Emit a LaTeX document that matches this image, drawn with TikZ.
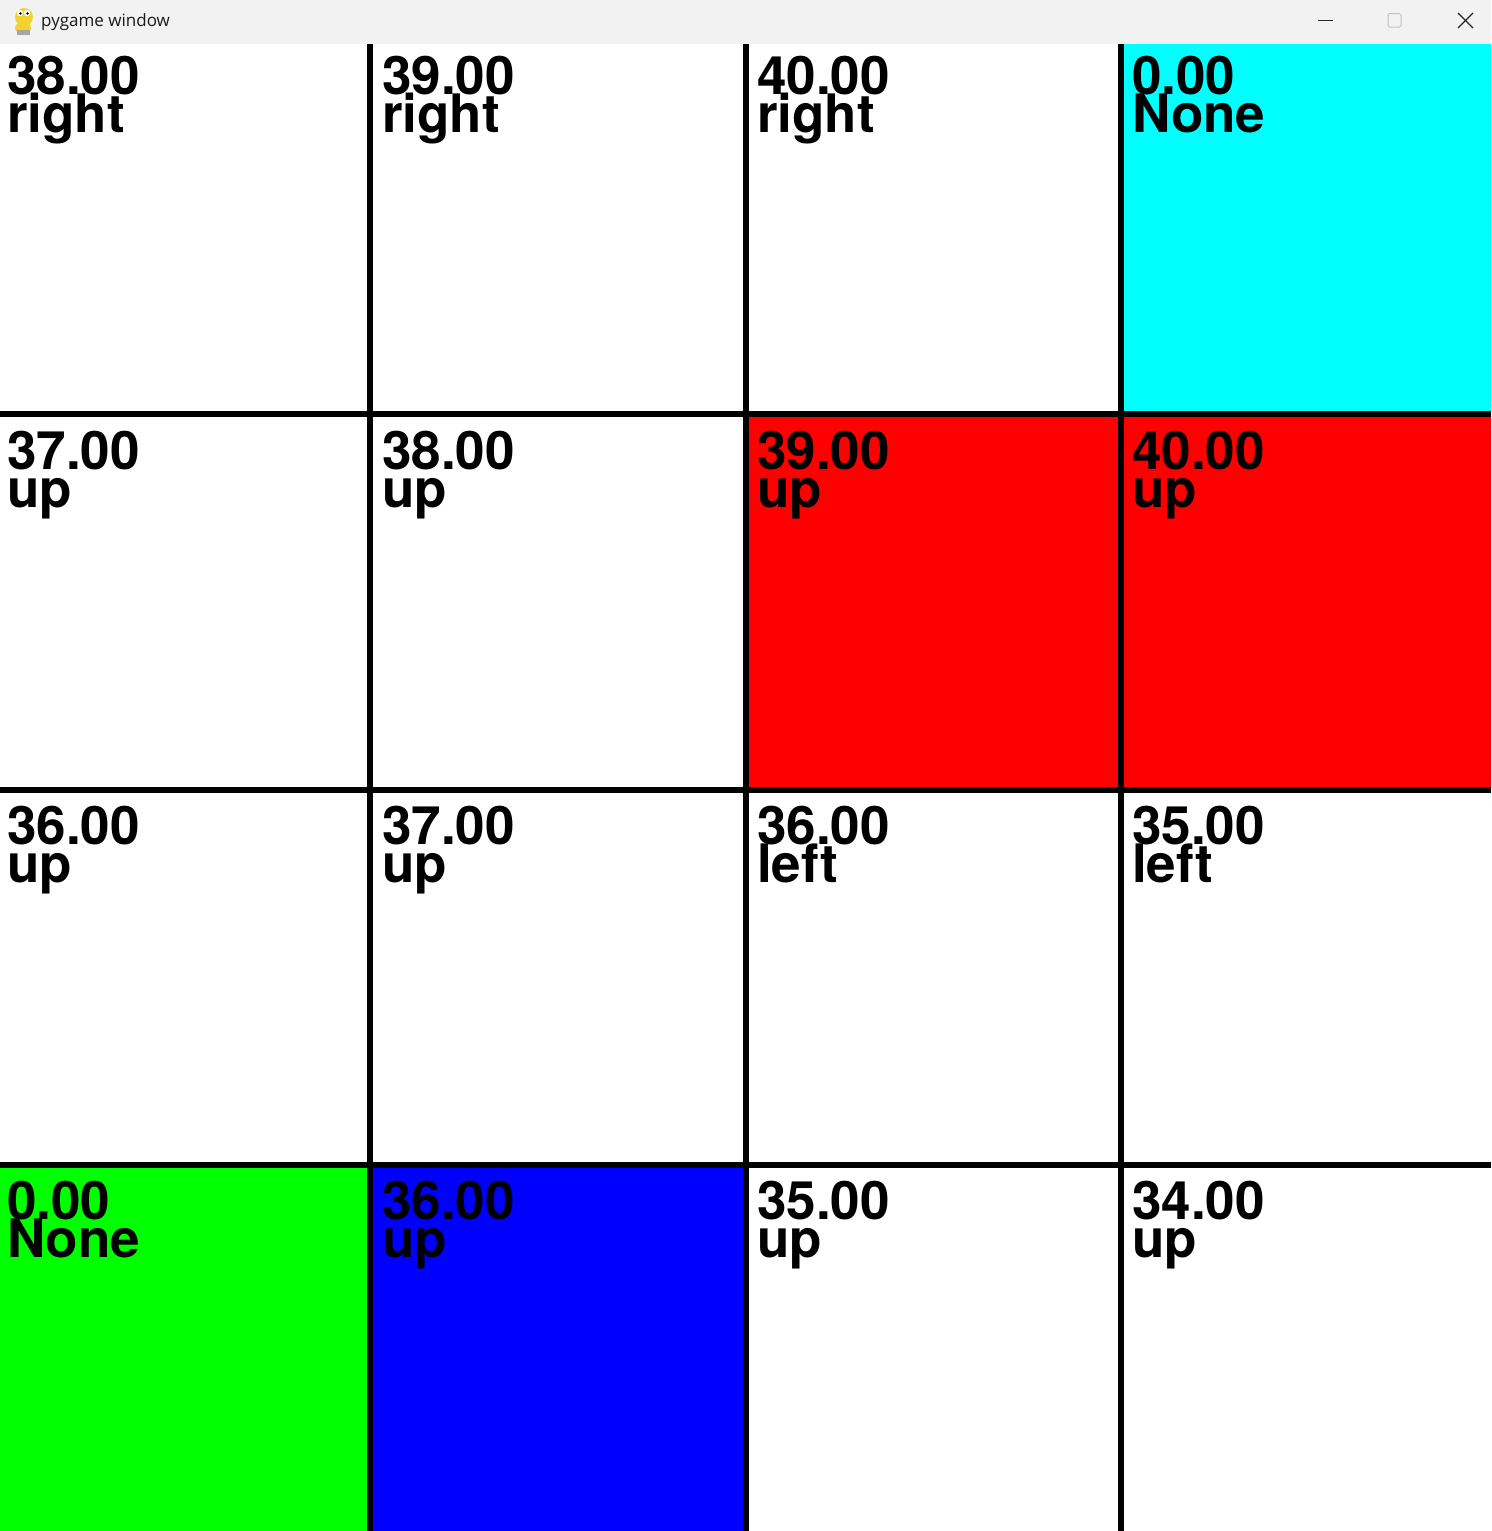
\documentclass[tikz,border=0pt]{standalone}
\usepackage{fontspec}
\setmainfont{TeX Gyre Heros}
\newfontfamily\titlefont{Open Sans}
\definecolor{barbg}{HTML}{F2F2F2}
\definecolor{cellcyan}{HTML}{00FFFF}
\definecolor{cellred}{HTML}{FF0000}
\definecolor{cellgreen}{HTML}{00FF00}
\definecolor{cellblue}{HTML}{0000FF}
\definecolor{iconyellow}{HTML}{F2D22E}
\tikzset{
  gridline/.style={line width=6pt, black},
  celltext/.style={anchor=base west, inner sep=0pt, font=\bfseries\fontsize{53}{53}\selectfont},
  titletext/.style={anchor=base west, inner sep=0pt, font=\titlefont\fontsize{17}{17}\selectfont, text=black!90},
  ctrl/.style={line width=1.2pt, black!85},
}
\begin{document}
\begin{tikzpicture}[x=1pt,y=-1pt]
\useasboundingbox (0,0) rectangle (1491,1531);
% window background
\fill[white] (0,0) rectangle (1491,1531);
% title bar
\fill[barbg] (0,0) rectangle (1491,44);
% icon
\fill[iconyellow] (24,17) ellipse (9 and 9);
\fill[iconyellow] (23,28) ellipse (8 and 6);
\fill[gray!70] (17,30) rectangle (30,35);
\fill[white] (20,13) circle (3.2);
\fill[white] (27,13) circle (3.2);
\fill[black] (20.5,13.5) circle (1.4);
\fill[black] (27.5,13.5) circle (1.4);
\node[titletext] (title) at (41,27) {pygame window};
% window controls
\draw[ctrl] (1318,20.5) -- (1333,20.5);
\draw[line width=1pt, black!25, rounded corners=1.5pt] (1388,13.5) rectangle (1401,27);
\draw[ctrl] (1458,13) -- (1473,28);
\draw[ctrl] (1458,28) -- (1473,13);
% coloured cells
\fill[cellcyan]  (1121,44) rectangle (1491,414);
\fill[cellred]   (745.5,414) rectangle (1121,789.5);
\fill[cellred]   (1121,414) rectangle (1491,789.5);
\fill[cellgreen] (0,1165) rectangle (370,1531);
\fill[cellblue]  (370,1165) rectangle (745.5,1531);
% grid lines
\coordinate (v1t) at (370,44);   \coordinate (v1b) at (370,1531);
\coordinate (v2t) at (745.5,44); \coordinate (v2b) at (745.5,1531);
\coordinate (v3t) at (1121,44);  \coordinate (v3b) at (1121,1531);
\coordinate (h1l) at (0,414);    \coordinate (h1r) at (1491,414);
\coordinate (h2l) at (0,789.5);  \coordinate (h2r) at (1491,789.5);
\coordinate (h3l) at (0,1165);   \coordinate (h3r) at (1491,1165);
\draw[gridline] (v1t) -- (v1b);
\draw[gridline] (v2t) -- (v2b);
\draw[gridline] (v3t) -- (v3b);
\draw[gridline] (h1l) -- (h1r);
\draw[gridline] (h2l) -- (h2r);
\draw[gridline] (h3l) -- (h3r);
% cell texts
\foreach \r/\c/\v/\d in {0/0/38.00/right, 0/1/39.00/right, 0/2/40.00/right, 0/3/0.00/None,
                         1/0/37.00/up, 1/1/38.00/up, 1/2/39.00/up, 1/3/40.00/up,
                         2/0/36.00/up, 2/1/37.00/up, 2/2/36.00/left, 2/3/35.00/left,
                         3/0/0.00/None, 3/1/36.00/up, 3/2/35.00/up, 3/3/34.00/up}{
  \node[celltext] (val-\r-\c) at ({7+375*\c},{94+375*\r}) {\v};
  \node[celltext] (dir-\r-\c) at ({7+375*\c},{132+375*\r}) {\d};
}
\end{tikzpicture}
\end{document}
